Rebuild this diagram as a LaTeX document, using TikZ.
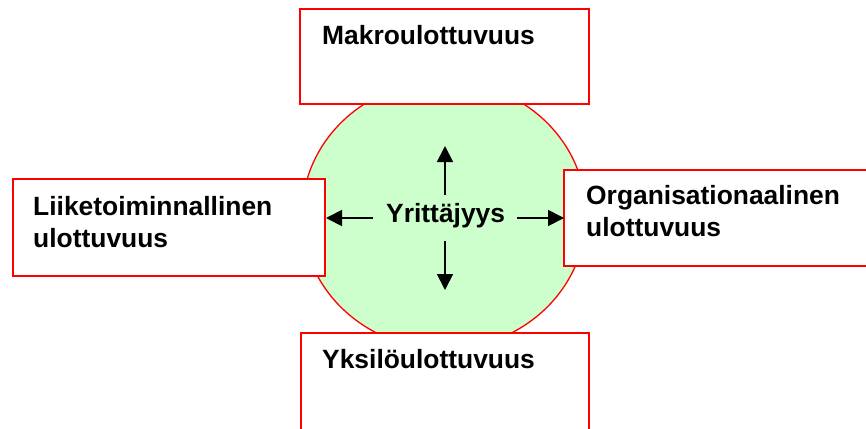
\documentclass[tikz,border=0pt]{standalone}
\usepackage{fontspec}
\setmainfont{Liberation Sans}
\usetikzlibrary{arrows.meta,shapes.geometric}
\definecolor{paleg}{RGB}{204,255,204}
\begin{document}
\begin{tikzpicture}[x=1pt,y=-1pt,
  boxline/.style={draw=red,line width=1.8pt,fill=white},
  lbl/.style={anchor=base west,inner sep=0pt,font=\fontsize{26.4}{31.5}\selectfont\bfseries,align=left},
  arr/.style={line width=1.8pt,-{Triangle[length=16pt,width=16pt]}}]
\useasboundingbox (0,0) rectangle (866,428);
% central ellipse
\node[draw=red,line width=1.3pt,fill=paleg,ellipse,minimum width=284pt,minimum height=268pt,inner sep=0pt] (circ) at (444,215) {};
% boxes
\draw[boxline] (300,9) rectangle (589,104) node[pos=0.5] (top) {};
\draw[boxline] (13,179) rectangle (325,276) node[pos=0.5] (left) {};
\draw[boxline] (564,170) rectangle (880,266) node[pos=0.5] (right) {};
\draw[boxline] (301,333) rectangle (589,440) node[pos=0.5] (bottom) {};
% texts
\node[lbl] (ttop) at (322,45) {Makroulottuvuus};
\node[lbl] (tleft) at (33,247) {Liiketoiminnallinen\\ulottuvuus};
\node[lbl] (tright) at (586,236) {Organisationaalinen\\ulottuvuus};
\node[lbl] (tbottom) at (322,368) {Yksilöulottuvuus};
\node[lbl] (center) at (386,222) {Yrittäjyys};
% arrows
\coordinate (u1) at (445,195); \coordinate (u2) at (445,146);
\coordinate (d1) at (445,241); \coordinate (d2) at (445,290);
\coordinate (l1) at (373,218); \coordinate (l2) at (326,218);
\coordinate (r1) at (517,218); \coordinate (r2) at (564,218);
\draw[arr] (u1) -- (u2);
\draw[arr] (d1) -- (d2);
\draw[arr] (l1) -- (l2);
\draw[arr] (r1) -- (r2);
\end{tikzpicture}
\end{document}
